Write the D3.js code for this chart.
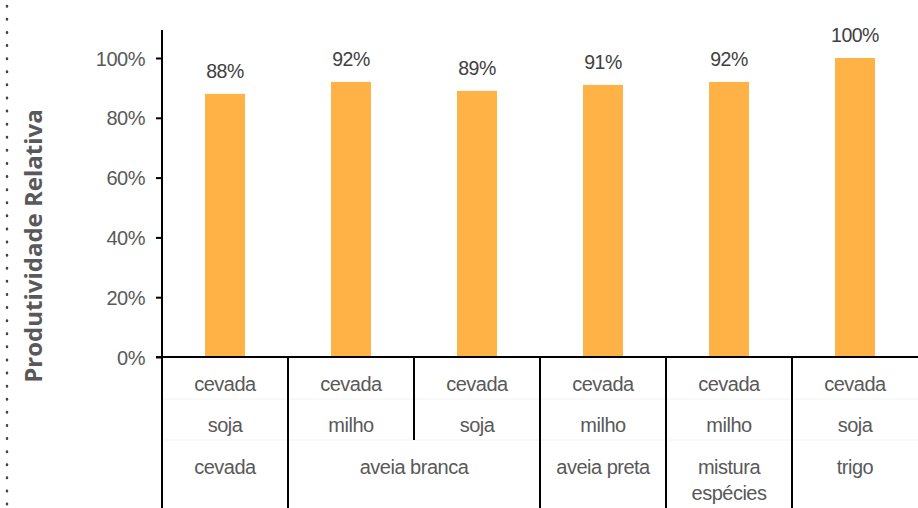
<!DOCTYPE html>
<html>
<head>
<meta charset="utf-8">
<script src="https://cdn.jsdelivr.net/npm/d3@7"></script>
<style>
  body { margin: 0; background: #fff; }
  svg text { font-family: "Liberation Sans", Arial, sans-serif; }
</style>
</head>
<body>
<svg width="918" height="508"></svg>
<script>
// data
const row1 = ['cevada', 'cevada', 'cevada', 'cevada', 'cevada', 'cevada']
const row2 = ['soja', 'milho', 'soja', 'milho', 'milho', 'soja']
const groups = [
  { label: ['cevada'], from: 0, to: 0 },
  { label: ['aveia branca'], from: 1, to: 2 },
  { label: ['aveia preta'], from: 3, to: 3 },
  { label: ['mistura', 'espécies'], from: 4, to: 4 },
  { label: ['trigo'], from: 5, to: 5 }
]
const values = [0.88, 0.92, 0.89, 0.91, 0.92, 1.00]
const yTicks = [0, 0.2, 0.4, 0.6, 0.8, 1.0]

let svg = d3.select('svg')

let x = d3.scaleBand()
  .domain(d3.range(values.length))
  .range([162, 918])
  .paddingInner(0)
let y = d3.scaleLinear()
  .domain([0, 1])
  .range([357, 58])

// dotted line at the left
svg.append('line')
  .attr('x1', 7).attr('x2', 7).attr('y1', 6).attr('y2', 508)
  .attr('stroke', '#444').attr('stroke-width', 2.5)
  .attr('stroke-dasharray', '0.5,12.6')
  .attr('stroke-linecap', 'round')

// faint row separators
;[399, 440].forEach(yy => {
  svg.append('line')
    .attr('x1', 162).attr('x2', 918).attr('y1', yy).attr('y2', yy)
    .attr('stroke', '#f2f2f2').attr('stroke-width', 1)
})

// bars
svg.append('g').selectAll('rect')
  .data(values)
  .enter().append('rect')
  .attr('x', (d, i) => x(i) + x.bandwidth() / 2 - 20)
  .attr('width', 40)
  .attr('y', d => y(d))
  .attr('height', d => y(0) - y(d))
  .attr('fill', '#FFB246')

// value labels
svg.append('g').selectAll('text')
  .data(values)
  .enter().append('text')
  .attr('x', (d, i) => x(i) + x.bandwidth() / 2)
  .attr('y', d => y(d) - 16)
  .attr('text-anchor', 'middle')
  .style('font-size', '19.5px')
  .style('letter-spacing', '-0.5px')
  .attr('fill', '#404040')
  .text(d => Math.round(d * 100) + '%')

// y axis
let yAxis = d3.axisLeft(y)
  .tickValues(yTicks)
  .tickSize(6)
  .tickPadding(11)
  .tickFormat(d => Math.round(d * 100) + '%')
let ga = svg.append('g')
  .attr('transform', 'translate(162,0)')
  .call(yAxis)
ga.select('.domain').remove()
ga.selectAll('.tick line').attr('stroke', '#000').attr('stroke-width', 2)
ga.selectAll('.tick text')
  .style('font-size', '20px')
  .style('letter-spacing', '-0.5px')
  .style('font-family', '"Liberation Sans", Arial, sans-serif')
  .attr('fill', '#595959')
  .attr('dy', '0.35em')
svg.append('line')
  .attr('x1', 162).attr('x2', 162).attr('y1', 30).attr('y2', 508)
  .attr('stroke', '#000').attr('stroke-width', 2)

// baseline
svg.append('line')
  .attr('x1', 156).attr('x2', 918).attr('y1', y(0)).attr('y2', y(0))
  .attr('stroke', '#000').attr('stroke-width', 2)

// category dividers
groups.forEach((g, gi) => {
  if (gi === 0) return
  let xx = x(g.from)
  svg.append('line')
    .attr('x1', xx).attr('x2', xx).attr('y1', y(0)).attr('y2', 508)
    .attr('stroke', '#000').attr('stroke-width', 2)
  // inner dividers within a group
  for (let i = g.from + 1; i <= g.to; i++) {
    svg.append('line')
      .attr('x1', x(i)).attr('x2', x(i)).attr('y1', y(0)).attr('y2', 440)
      .attr('stroke', '#000').attr('stroke-width', 2)
  }
})

// category labels
let cat = svg.append('g')
  .style('font-size', '20px')
  .attr('fill', '#595959')
  .attr('text-anchor', 'middle')
  .style('letter-spacing', '-0.5px')
cat.selectAll('.r1').data(row1).enter().append('text')
  .attr('x', (d, i) => x(i) + x.bandwidth() / 2)
  .attr('y', 391)
  .text(d => d)
cat.selectAll('.r2').data(row2).enter().append('text')
  .attr('x', (d, i) => x(i) + x.bandwidth() / 2)
  .attr('y', 432)
  .text(d => d)
groups.forEach(g => {
  let cx = (x(g.from) + x(g.to) + x.bandwidth()) / 2
  g.label.forEach((t, k) => {
    cat.append('text')
      .attr('x', cx)
      .attr('y', 474 + k * 26)
      .text(t)
  })
})

// y title
svg.append('text')
  .attr('transform', 'translate(42,246)rotate(-90)')
  .attr('text-anchor', 'middle')
  .style('font-family', '"Open Sans", sans-serif')
  .style('font-weight', 'bold')
  .style('font-size', '24px')
  .attr('fill', '#595959')
  .text('Produtividade Relativa')
</script>
</body>
</html>
